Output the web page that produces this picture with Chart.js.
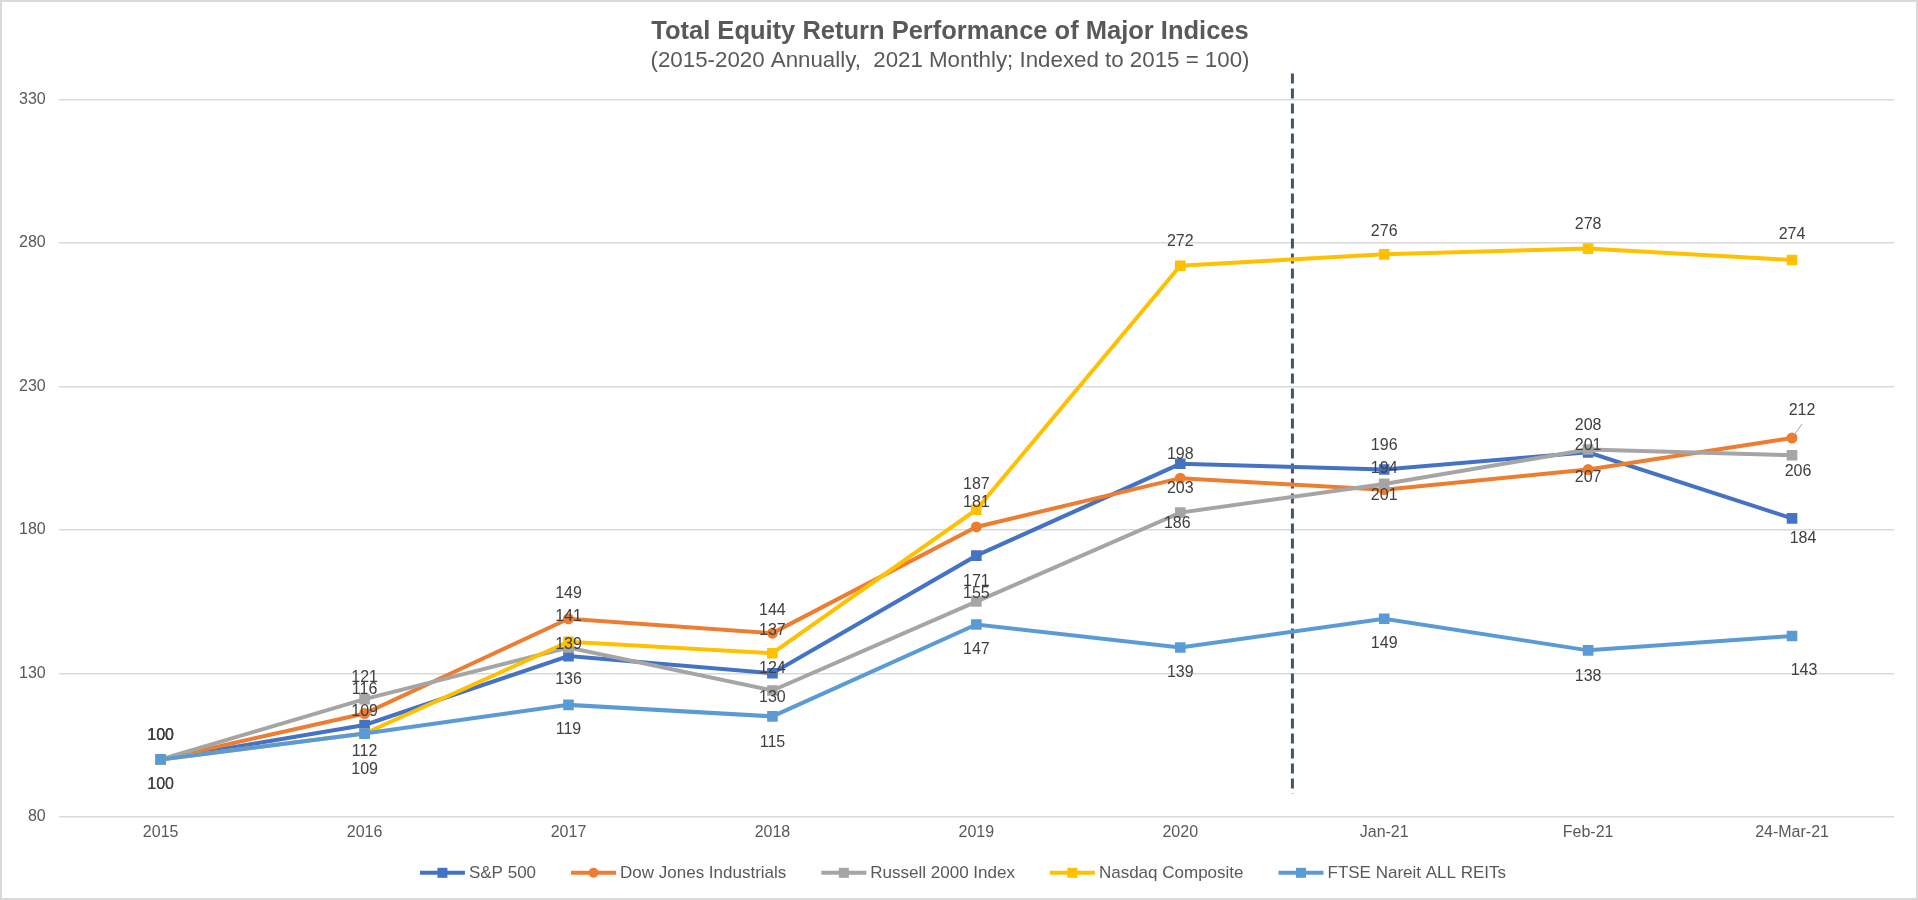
<!DOCTYPE html>
<html>
<head>
<meta charset="utf-8">
<script src="https://cdn.jsdelivr.net/npm/chart.js@4.4.1/dist/chart.umd.min.js"></script>
<style>
  html, body { margin: 0; padding: 0; background: #ffffff; }
  #wrap { width: 1918px; height: 900px; position: relative; }
  canvas { display: block; }
</style>
</head>
<body>
<div id="wrap"><canvas id="c" width="1918" height="900"></canvas></div>
<script>
// ---- Data ----
const categories = ['2015', '2016', '2017', '2018', '2019', '2020', 'Jan-21', 'Feb-21', '24-Mar-21'];
const sp500       = [100, 112, 136, 130, 171, 203, 201, 207, 184];
const dowJones    = [100, 116, 149, 144, 181, 198, 194, 201, 212];
const russell2000 = [100, 121, 139, 124, 155, 186, 196, 208, 206];
const nasdaq      = [100, 109, 141, 137, 187, 272, 276, 278, 274];
const reits       = [100, 109, 119, 115, 147, 139, 149, 138, 143];
const yTickValues = [80, 130, 180, 230, 280, 330];
const seriesNames = ['S&P 500', 'Dow Jones Industrials', 'Russell 2000 Index', 'Nasdaq Composite', 'FTSE Nareit ALL REITs'];
const titleText = 'Total Equity Return Performance of Major Indices';
const subtitleText = '(2015-2020 Annually,  2021 Monthly; Indexed to 2015 = 100)';
const dividerAt = 5.55;          // category position of the dashed divider (between 2020 and Jan-21)
const dividerRange = [88, 339];  // value range spanned by the divider

// ---- Styles ----
const F = "'Liberation Sans', Arial, sans-serif";
const colors = ['#4472C4', '#ED7D31', '#A5A5A5', '#FFC000', '#5B9BD5'];
const pointStyles = ['rect', 'circle', 'rect', 'rect', 'rect'];

// data-label offsets (pixels from the point), per series
const labelPlacement = [
  { dx: [0, 0, 0, 0, 0, 0, 0, 0, 11],  dy: [25, 27, 24, 24, 26, 25, 26, 25, 20] },
  { dx: [0, 0, 0, 0, 0, 0, 0, 0, 10],  dy: [-24, -24, -25, -23, -24, -24, -21, -24, -27], leader: [8] },
  { dx: [0, 0, 0, 0, 0, -3, 0, 0, 6],  dy: [-24, -22, -3, -22, -8, 11, -38, -24, 16] },
  { dx: [0, 0, 0, 0, 0, 0, 0, 0, 0],   dy: [-24, -22, -25, -23, -25, -24, -23, -24, -25] },
  { dx: [0, 0, 0, 0, 0, 0, 0, 0, 12],  dy: [25, 36, 25, 26, 25, 25, 25, 26, 35] }
];

const seriesValues = [sp500, dowJones, russell2000, nasdaq, reits];
const datasets = seriesValues.map((vals, i) => ({
  label: seriesNames[i],
  data: vals,
  borderColor: colors[i],
  backgroundColor: colors[i],
  borderWidth: 4,
  pointStyle: pointStyles[i],
  pointRadius: pointStyles[i] === 'circle' ? 5.5 : 7.5,
  pointHoverRadius: pointStyles[i] === 'circle' ? 5.5 : 7.5,
  pointBackgroundColor: colors[i],
  pointBorderColor: colors[i],
  pointBorderWidth: 0,
  tension: 0,
  order: seriesValues.length - i
}));

const frameAndDivider = {
  id: 'frameAndDivider',
  beforeDatasetsDraw(chart) {
    const { ctx, scales: { x, y } } = chart;
    const x0 = x.getPixelForValue(Math.floor(dividerAt));
    const x1 = x.getPixelForValue(Math.floor(dividerAt) + 1);
    const px = x0 + (x1 - x0) * (dividerAt - Math.floor(dividerAt));
    ctx.save();
    ctx.strokeStyle = '#44546A';
    ctx.lineWidth = 3;
    ctx.setLineDash([10, 5]);
    ctx.beginPath();
    ctx.moveTo(px, y.getPixelForValue(dividerRange[1]));
    ctx.lineTo(px, y.getPixelForValue(dividerRange[0]));
    ctx.stroke();
    ctx.restore();
  },
  afterDraw(chart) {
    const ctx = chart.ctx;
    ctx.save();
    ctx.strokeStyle = '#D9D9D9';
    ctx.lineWidth = 2;
    ctx.strokeRect(1, 1, chart.width - 2, chart.height - 2);
    ctx.restore();
  }
};

const dataLabels = {
  id: 'dataLabels',
  afterDatasetsDraw(chart) {
    const ctx = chart.ctx;
    ctx.save();
    ctx.font = '16px ' + F;
    ctx.fillStyle = '#404040';
    ctx.textAlign = 'center';
    ctx.textBaseline = 'middle';
    chart.data.datasets.forEach((ds, i) => {
      const meta = chart.getDatasetMeta(i);
      const place = labelPlacement[i];
      meta.data.forEach((pt, j) => {
        const lx = pt.x + place.dx[j];
        const ly = pt.y + place.dy[j];
        if (place.leader && place.leader.includes(j)) {
          ctx.save();
          ctx.strokeStyle = '#A6A6A6';
          ctx.lineWidth = 1;
          ctx.beginPath();
          ctx.moveTo(pt.x + 2, pt.y - 3);
          ctx.lineTo(lx, ly + 13);
          ctx.stroke();
          ctx.restore();
        }
        ctx.fillText(String(ds.data[j]), lx, ly);
      });
    });
    ctx.restore();
  }
};

const customLegend = {
  id: 'customLegend',
  afterDraw(chart) {
    const ctx = chart.ctx;
    ctx.save();
    ctx.font = '17px ' + F;
    const lineLen = 45, gapText = 4, gapItem = 35;
    const dsets = chart.data.datasets;
    const widths = dsets.map(d => lineLen + gapText + ctx.measureText(d.label).width);
    const total = widths.reduce((a, b) => a + b, 0) + gapItem * (widths.length - 1);
    let x = chart.width / 2 - total / 2 + 4;
    const y = chart.chartArea.bottom + 56;
    dsets.forEach((d, i) => {
      ctx.strokeStyle = d.borderColor;
      ctx.fillStyle = d.borderColor;
      ctx.lineWidth = 4;
      ctx.beginPath();
      ctx.moveTo(x, y);
      ctx.lineTo(x + lineLen, y);
      ctx.stroke();
      const cx = x + lineLen / 2;
      if (d.pointStyle === 'circle') {
        ctx.beginPath();
        ctx.arc(cx, y, 5, 0, Math.PI * 2);
        ctx.fill();
      } else {
        ctx.fillRect(cx - 5, y - 5, 10, 10);
      }
      ctx.fillStyle = '#595959';
      ctx.textAlign = 'left';
      ctx.textBaseline = 'middle';
      ctx.fillText(d.label, x + lineLen + gapText, y + 1);
      x += widths[i] + gapItem;
    });
    ctx.restore();
  }
};

new Chart(document.getElementById('c'), {
  type: 'line',
  data: { labels: categories, datasets: datasets },
  options: {
    responsive: false,
    animation: false,
    devicePixelRatio: 1,
    layout: { padding: { left: 6, right: 24, top: 0, bottom: 52 } },
    plugins: {
      legend: { display: false },
      tooltip: { enabled: false },
      title: {
        display: true, text: titleText, color: '#595959',
        font: { family: F, size: 25.5, weight: 'bold' },
        padding: { top: 17, bottom: 0 }
      },
      subtitle: {
        display: true, text: subtitleText, color: '#595959',
        font: { family: F, size: 22.3 },
        padding: { top: 0, bottom: 25 }
      }
    },
    scales: {
      x: {
        offset: true,
        grid: { display: false, drawTicks: false },
        border: { display: false },
        ticks: { color: '#595959', font: { family: F, size: 16 }, padding: 6, maxRotation: 0, autoSkip: false }
      },
      y: {
        min: yTickValues[0],
        max: yTickValues[yTickValues.length - 1],
        grid: { color: '#D9D9D9', lineWidth: 1.5, drawTicks: false },
        border: { display: false },
        afterBuildTicks: (scale) => { scale.ticks = yTickValues.map(v => ({ value: v })); },
        ticks: { color: '#595959', font: { family: F, size: 16 }, padding: 13 }
      }
    }
  },
  plugins: [frameAndDivider, dataLabels, customLegend]
});
</script>
</body>
</html>
